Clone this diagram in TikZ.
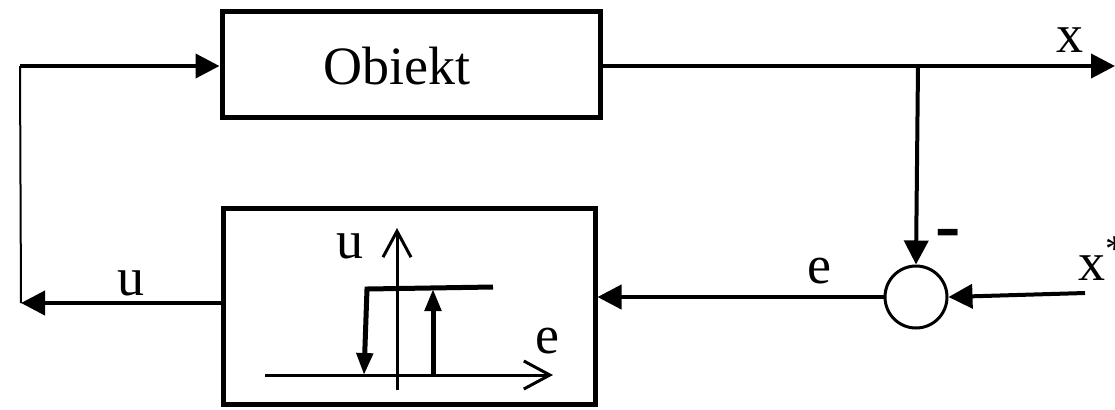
\documentclass[tikz,border=0pt]{standalone}
\usepackage{fontspec}
\setmainfont{Liberation Serif}
\usetikzlibrary{arrows.meta,calc}
\tikzset{blok/.style={draw,line width=2.5pt,minimum width=189pt,minimum height=53pt,inner sep=0pt},
 sumator/.style={draw,circle,line width=1.5pt,minimum size=31pt,inner sep=0pt},
 arrow/.style={-{Triangle[length=12pt,width=12pt]},line width=2pt},
 axis/.style={-{Straight Barb[length=13pt,width=14pt,line width=1.5pt]},line width=1.5pt},
 hyst/.style={-{Triangle[length=11pt,width=8pt]},line width=2.5pt},
 lbl/.style={anchor=base,inner sep=0pt,font=\fontsize{27}{30}\selectfont}}

\begin{document}
\begin{tikzpicture}[x=0.5pt,y=-0.5pt]
\useasboundingbox (0,0) rectangle (1115,409);

\node[blok] (obiekt) at (411,64) {};
\node[lbl] (obiektTxt) at (397,84) {Obiekt};
\node[blok,minimum width=186pt,minimum height=98pt] (reg) at (409,306) {};
\node[sumator] (sum) at (916,297) {};

\coordinate (lt) at (20,66);
\coordinate (lb) at (21,303);
\coordinate (xout) at (1115,66);
\coordinate (br) at (918,66);
\coordinate (xin) at (1085,293);

\node[lbl] (lx) at (1070,52) {x};
\node[lbl] (lu) at (131,295) {u};
\node[lbl] (le) at (819,283) {e};
\node[lbl,anchor=base west] (lxs) at (1078,280) {x\textsuperscript{*}};
\node[inner sep=0pt,font=\fontsize{38}{38}\selectfont\bfseries] (minus) at (948,240) {-};

\draw[arrow] (obiekt.east |- xout) -- (xout);
\draw[arrow] (br) -- (sum.north);
\draw[arrow] (xin) -- (sum.east);
\draw[arrow] (sum.west) -- (sum.west -| reg.east);
\draw[arrow] (reg.west |- lb) -- (lb);
\draw[line width=1pt] (lb) -- (lt);
\draw[arrow] (lt) -- (obiekt.west |- lt);

% charakterystyka przekaznika
\draw[axis] (265,375) -- (553,375);
\draw[axis] (397,390) -- (397,228);
\node[lbl] (gu) at (350,258) {u};
\node[lbl] (ge) at (547,353) {e};
\draw[hyst] (493,287) -- (367,289) -- (364,375);
\draw[hyst] (433,375) -- (433,289);
\end{tikzpicture}
\end{document}
